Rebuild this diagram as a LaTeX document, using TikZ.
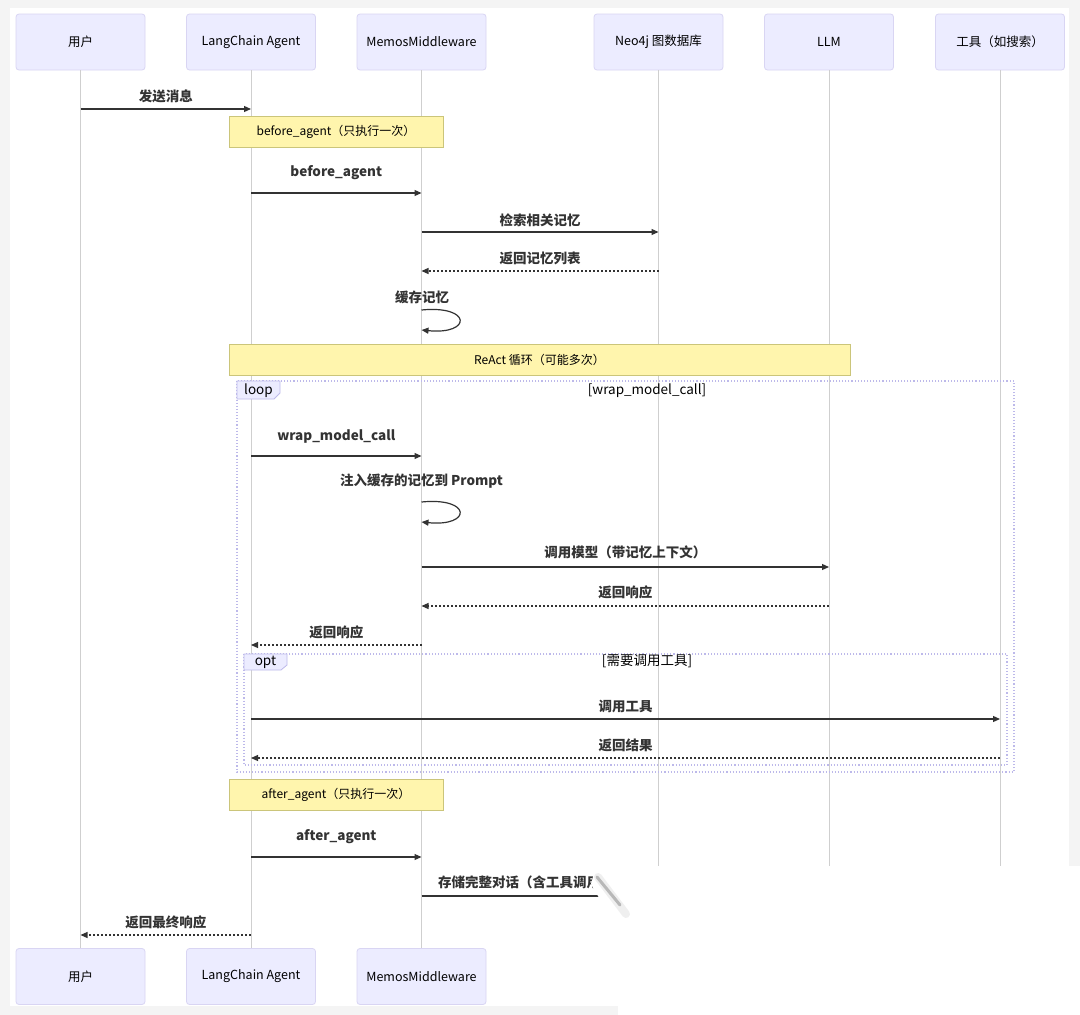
\documentclass[tikz,border=0pt]{standalone}
\usepackage{fontspec}
\setmainfont{Noto Sans CJK SC}
\usetikzlibrary{arrows.meta}
\definecolor{actfill}{HTML}{ECECFF}
\definecolor{actdraw}{HTML}{D9D5F3}
\definecolor{notefill}{HTML}{FFF5AD}
\definecolor{notedraw}{HTML}{CBC57A}
\definecolor{lifec}{HTML}{CFCFCF}
\definecolor{msgc}{HTML}{333333}
\definecolor{loopc}{HTML}{BDB9EA}
\definecolor{bgc}{HTML}{F4F4F4}
\begin{document}
\begin{tikzpicture}[x=1pt,y=-1pt,
 actor/.style={draw=actdraw, fill=actfill, rounded corners=3pt, minimum width=129pt, minimum height=56pt, font=\fontsize{12.5}{14}\selectfont, text=black, line width=0.8pt, inner sep=0},
 note/.style={draw=notedraw, fill=notefill, minimum height=31pt, font=\fontsize{12}{14}\selectfont, text=black, inner sep=0, line width=0.8pt},
 life/.style={draw=lifec, line width=0.9pt},
 msg/.style={draw=msgc, line width=1.2pt, -{Triangle[length=7pt,width=6pt]}},
 ret/.style={msg, dash pattern=on 2pt off 2pt},
 lbl/.style={font=\fontsize{13.5}{15}\selectfont\bfseries, text=msgc, inner sep=0},
 framebox/.style={draw=loopc, dotted, line width=1.1pt},
 tabbox/.style={draw=loopc, fill=actfill, line width=0.8pt},
 fl/.style={font=\fontsize{13.5}{15}\selectfont, text=black, inner sep=0}]
\useasboundingbox (0,0) rectangle (1080,1015);
\fill[bgc] (0,0) rectangle (1080,1015);
\fill[white] (10,8) rectangle (1069,1006);

% participants (top)
\node[actor] (u)   at (80.5,42) {用户};
\node[actor] (lc)  at (251,42) {LangChain Agent};
\node[actor] (mm)  at (421.5,42) {MemosMiddleware};
\node[actor] (neo) at (658.5,42) {Neo4j 图数据库};
\node[actor] (llm) at (829,42) {LLM};
\node[actor] (tool) at (1000,42) {工具（如搜索）};
% participants (bottom)
\node[actor] (ub)  at (80.5,976.5) {用户};
\node[actor] (lcb) at (251,976.5) {LangChain Agent};
\node[actor] (mmb) at (421.5,976.5) {MemosMiddleware};
\coordinate (neoend) at (658.5,880);
\coordinate (llmend) at (829,880);
\coordinate (toolend) at (1000,880);

% lifelines
\draw[life] (u.south) -- (ub.north);
\draw[life] (lc.south) -- (lcb.north);
\draw[life] (mm.south) -- (mmb.north);
\draw[life] (neo.south) -- (neoend);
\draw[life] (llm.south) -- (llmend);
\draw[life] (tool.south) -- (toolend);

% messages
\draw[msg] (u |- 0,109) -- (lc |- 0,109) node[lbl, midway, yshift=13pt] {发送消息};
\node[note, minimum width=214pt] (n1) at (336,131.5) {before\_agent（只执行一次）};
\draw[msg] (lc |- 0,193) -- (mm |- 0,193) node[lbl, midway, yshift=20pt] {before\_agent};
\draw[msg] (mm |- 0,232) -- (neo |- 0,232) node[lbl, midway, yshift=12pt] {检索相关记忆};
\draw[ret] (neo |- 0,271) -- (mm |- 0,271) node[lbl, midway, yshift=13pt] {返回记忆列表};
\node[lbl] (l5) at (422,297) {缓存记忆};
\coordinate (s1a) at (421.5,310);
\coordinate (s1b) at (421.5,330);
\draw[msg] (s1a) .. controls (472,305) and (472,335) .. (s1b);

\node[note, minimum width=621pt] (n2) at (539.5,359.5) {ReAct 循环（可能多次）};

% loop frame
\draw[framebox] (237,381) rectangle (1014,772);
\draw[tabbox] (237,381) -- (280,381) -- (280,393) -- (274,399) -- (237,399) -- cycle;
\node[fl] (looplbl) at (258.5,391) {loop};
\node[fl] (loopcond) at (647,391) {[wrap\_model\_call]};

\draw[msg] (lc |- 0,456) -- (mm |- 0,456) node[lbl, midway, yshift=20pt] {wrap\_model\_call};
\node[lbl] (l7) at (421.5,481) {注入缓存的记忆到 Prompt};
\coordinate (s2a) at (421.5,502);
\coordinate (s2b) at (421.5,522);
\draw[msg] (s2a) .. controls (472,497) and (472,527) .. (s2b);
\draw[msg] (mm |- 0,567) -- (llm |- 0,567) node[lbl, midway, yshift=15pt] {调用模型（带记忆上下文）};
\draw[ret] (llm |- 0,606) -- (mm |- 0,606) node[lbl, midway, yshift=14pt] {返回响应};
\draw[ret] (mm |- 0,645) -- (lc |- 0,645) node[lbl, midway, yshift=13pt] {返回响应};

% opt frame
\draw[framebox] (244,654) rectangle (1007,765);
\draw[tabbox] (244,654) -- (287,654) -- (287,665) -- (281,670) -- (244,670) -- cycle;
\node[fl] (optlbl) at (265.5,662.5) {opt};
\node[fl] (optcond) at (647,661) {[需要调用工具]};

\draw[msg] (lc |- 0,719) -- (tool |- 0,719) node[lbl, midway, yshift=13pt] {调用工具};
\draw[ret] (tool |- 0,758) -- (lc |- 0,758) node[lbl, midway, yshift=13pt] {返回结果};

\node[note, minimum width=214pt] (n3) at (336,795) {after\_agent（只执行一次）};
\draw[msg] (lc |- 0,857) -- (mm |- 0,857) node[lbl, midway, yshift=20pt] {after\_agent};
\draw[msg] (mm |- 0,896) -- (neo |- 0,896);
\node[lbl, anchor=west] (l14) at (438,882) {存储完整对话（含工具调用记录）};
\draw[ret] (lc |- 0,935) -- (u |- 0,935) node[lbl, midway, yshift=13pt] {返回最终响应};

% white fold covering the lower right corner
\fill[white] (596,866) -- (1080,866) -- (1080,1015) -- (618,1015) -- (618,930) -- (591,884) -- cycle;
\draw[gray, line width=8pt, opacity=0.12, line cap=round] (598,877) -- (626,914);
\draw[gray!80!black, line width=3pt, opacity=0.4, line cap=round] (597,877) -- (620,905);
\end{tikzpicture}
\end{document}
